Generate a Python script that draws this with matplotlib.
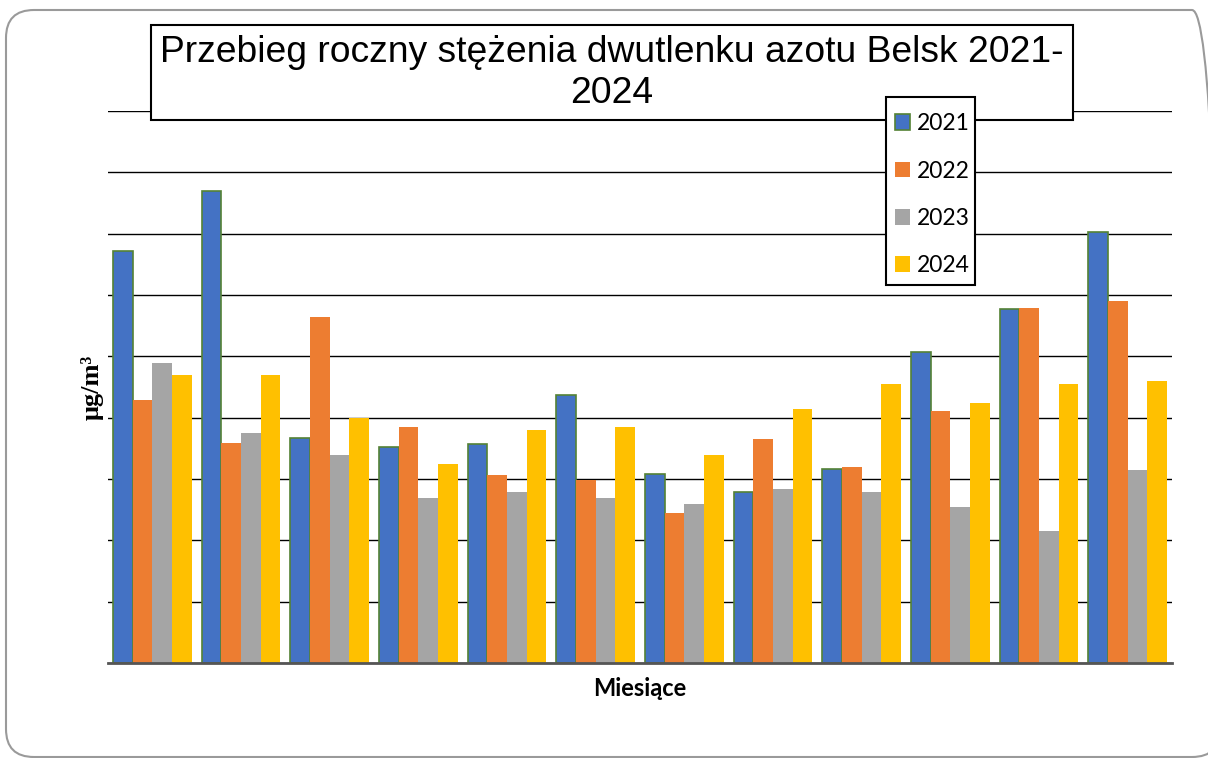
import matplotlib

matplotlib.use("Agg")
import matplotlib.pyplot as plt
import numpy as np
from matplotlib.patches import FancyBboxPatch, Rectangle
from matplotlib.transforms import IdentityTransform

# monthly NO2 concentration, ug/m3
months = ["I", "II", "III", "IV", "V", "VI", "VII", "VIII", "IX", "X", "XI", "XII"]
years = ["2021", "2022", "2023", "2024"]
no2_2021 = [67.2, 77.0, 36.7, 35.2, 35.7, 43.7, 30.8, 27.9, 31.6, 50.7, 57.7, 70.3]
no2_2022 = [42.9, 35.9, 56.4, 38.5, 30.7, 29.9, 24.5, 36.5, 32.0, 41.1, 57.9, 59.1]
no2_2023 = [48.9, 37.5, 33.9, 26.9, 27.9, 26.9, 25.9, 28.4, 27.9, 25.4, 21.5, 31.5]
no2_2024 = [47.0, 47.0, 40.0, 32.5, 38.0, 38.5, 33.9, 41.4, 45.5, 42.4, 45.5, 46.0]

COLORS = ["#4472C4", "#ED7D31", "#A5A5A5", "#FFC000"]
W, H = 1208, 758

fig = plt.figure(figsize=(W / 100, H / 100), dpi=100)

# rounded slide frame, in pixels (right edge runs off the image)
frame = FancyBboxPatch(
    (6, 1), 1214, 747,
    boxstyle="round,pad=0,rounding_size=28",
    transform=IdentityTransform(), facecolor="none", edgecolor="#9a9a9a",
    linewidth=1.5,
)
fig.patches.append(frame)

ax = fig.add_axes([108 / W, 1 - 663 / H, (1172 - 108) / W, (663 - 111) / H])
series = [no2_2021, no2_2022, no2_2023, no2_2024]
x = np.arange(len(months))
bw = 0.2225
for j, (vals, year, col) in enumerate(zip(series, years, COLORS)):
    kw = dict(edgecolor="#548235", linewidth=1.2) if j == 0 else dict(linewidth=0)
    ax.bar(x + (j - 1.5) * bw, vals, width=bw, color=col, label=year, zorder=2, **kw)

ax.set_xlim(-0.5, len(months) - 0.5)
ax.set_ylim(0, 90)
ax.set_yticks(np.arange(0, 91, 10))
ax.grid(True, axis="y", color="black", linewidth=1.0, zorder=0)
ax.set_axisbelow(True)
for side in ("top", "right", "left"):
    ax.spines[side].set_visible(False)
ax.spines["bottom"].set_color("#555555")
ax.spines["bottom"].set_linewidth(2)
ax.tick_params(left=False, bottom=False, labelleft=False, labelbottom=False)

ax.set_xlabel("Miesiące", fontsize=17, fontweight="bold", family="Lato", labelpad=10)
ax.set_ylabel("μg/m³", fontsize=19, fontweight="bold", family="Liberation Serif", labelpad=3)

# title box
fig.patches.append(Rectangle(
    (151 / W, 1 - 120 / H), (1073 - 151) / W, (120 - 25) / H,
    transform=fig.transFigure, facecolor="white", edgecolor="black",
    linewidth=1.5, zorder=5,
))
fig.text(612 / W, 1 - 73 / H,
         "Przebieg roczny stężenia dwutlenku azotu Belsk 2021-\n2024",
         ha="center", va="center", fontsize=26.8, family="Liberation Sans",
         linespacing=1.2, zorder=6)

# legend box drawn over the title box
fig.patches.append(Rectangle(
    (886 / W, 1 - 285 / H), (975 - 886) / W, (285 - 97) / H,
    transform=fig.transFigure, facecolor="white", edgecolor="black",
    linewidth=1.5, zorder=7,
))
handles, labels = ax.get_legend_handles_labels()
leg = fig.legend(
    handles, labels,
    loc="upper left", bbox_to_anchor=(886 / W, 1 - 104 / H),
    bbox_transform=fig.transFigure, prop={"family": "Lato", "size": 16.5},
    frameon=False, handlelength=0.66, handleheight=0.66, handletextpad=0.3,
    labelspacing=1.15, borderpad=0.4, borderaxespad=0,
)
leg.set_zorder(8)

fig.savefig("out.png", dpi=100)
